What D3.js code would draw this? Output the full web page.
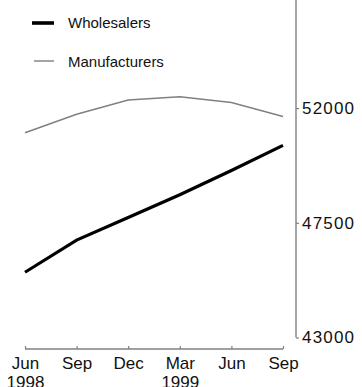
<!DOCTYPE html>
<html>
<head>
<meta charset="utf-8">
<script src="https://cdn.jsdelivr.net/npm/d3@7"></script>
<style>
  body { margin: 0; background: #fff; }
  svg { display: block; font-family: Arial, "Liberation Sans", sans-serif; }
</style>
</head>
<body>
<div id="chart"></div>
<script>
// Quarterly values
const months = ['Jun', 'Sep', 'Dec', 'Mar', 'Jun', 'Sep'];
const years = ['1998', '', '', '1999', '', ''];
const wholesalers = [45560, 46820, 47710, 48600, 49550, 50540];
const manufacturers = [51030, 51760, 52320, 52450, 52220, 51670];
const yTicks = [43000, 47500, 52000, 56500];

const width = 362, height = 387;

const svg = d3.select('#chart')
    .append('svg')
    .attr('width', width)
    .attr('height', height);

const x = d3.scalePoint()
    .domain(d3.range(months.length))
    .range([25, 283]);

const y = d3.scaleLinear()
    .domain([43000, 56500])
    .range([337.5, -6.6]);

// Y axis on the right
const yAxis = svg.append('g')
    .attr('transform', 'translate(296,0)')
    .call(d3.axisRight(y).tickValues(yTicks).tickSize(3).tickPadding(3).tickFormat(d3.format('d')));
yAxis.select('.domain').attr('stroke', '#808080').attr('stroke-width', 1.4)
    .attr('d', `M0,0V${y(43000)}`);
yAxis.selectAll('.tick line').attr('stroke', '#808080').attr('stroke-width', 1.2);
yAxis.selectAll('.tick text')
    .attr('font-size', '17px')
    .attr('letter-spacing', '1.2px')
    .attr('fill', '#111');

// X axis at bottom, ticks pointing up
const xAxis = svg.append('g')
    .attr('transform', 'translate(0,349)')
    .call(d3.axisBottom(x).tickSize(-3).tickPadding(8).tickFormat(i => months[i]));
xAxis.select('.domain').attr('stroke', '#808080').attr('stroke-width', 1.4)
    .attr('d', `M${x(0)},0H${x(months.length - 1)}`);
xAxis.selectAll('.tick line').attr('stroke', '#808080').attr('stroke-width', 1.2);
xAxis.selectAll('.tick text')
    .attr('font-size', '17px')
    .attr('fill', '#111')
    .each(function (i) {
        if (!years[i]) return;
        d3.select(this).append('tspan')
            .attr('x', 0)
            .attr('dy', '1.1em')
            .text(years[i]);
    });

// Lines
const line = d3.line()
    .x((d, i) => x(i))
    .y(d => y(d));

svg.append('path')
    .datum(manufacturers)
    .attr('fill', 'none')
    .attr('stroke', '#808080')
    .attr('stroke-width', 1.5)
    .attr('d', line);

svg.append('path')
    .datum(wholesalers)
    .attr('fill', 'none')
    .attr('stroke', '#000')
    .attr('stroke-width', 3.2)
    .attr('d', line);

// Legend
const legend = [
    { name: 'Wholesalers', color: '#000', w: 3.6, x1: 32, y: 23, ty: 27.5 },
    { name: 'Manufacturers', color: '#808080', w: 1.4, x1: 34, y: 61, ty: 66.5 }
];
const lg = svg.append('g').selectAll('g').data(legend).join('g');
lg.append('line')
    .attr('x1', d => d.x1).attr('x2', 54)
    .attr('y1', d => d.y).attr('y2', d => d.y)
    .attr('stroke', d => d.color)
    .attr('stroke-width', d => d.w);
lg.append('text')
    .attr('x', 68)
    .attr('y', d => d.ty)
    .attr('font-size', '15px')
    .attr('fill', '#111')
    .text(d => d.name);
</script>
</body>
</html>
